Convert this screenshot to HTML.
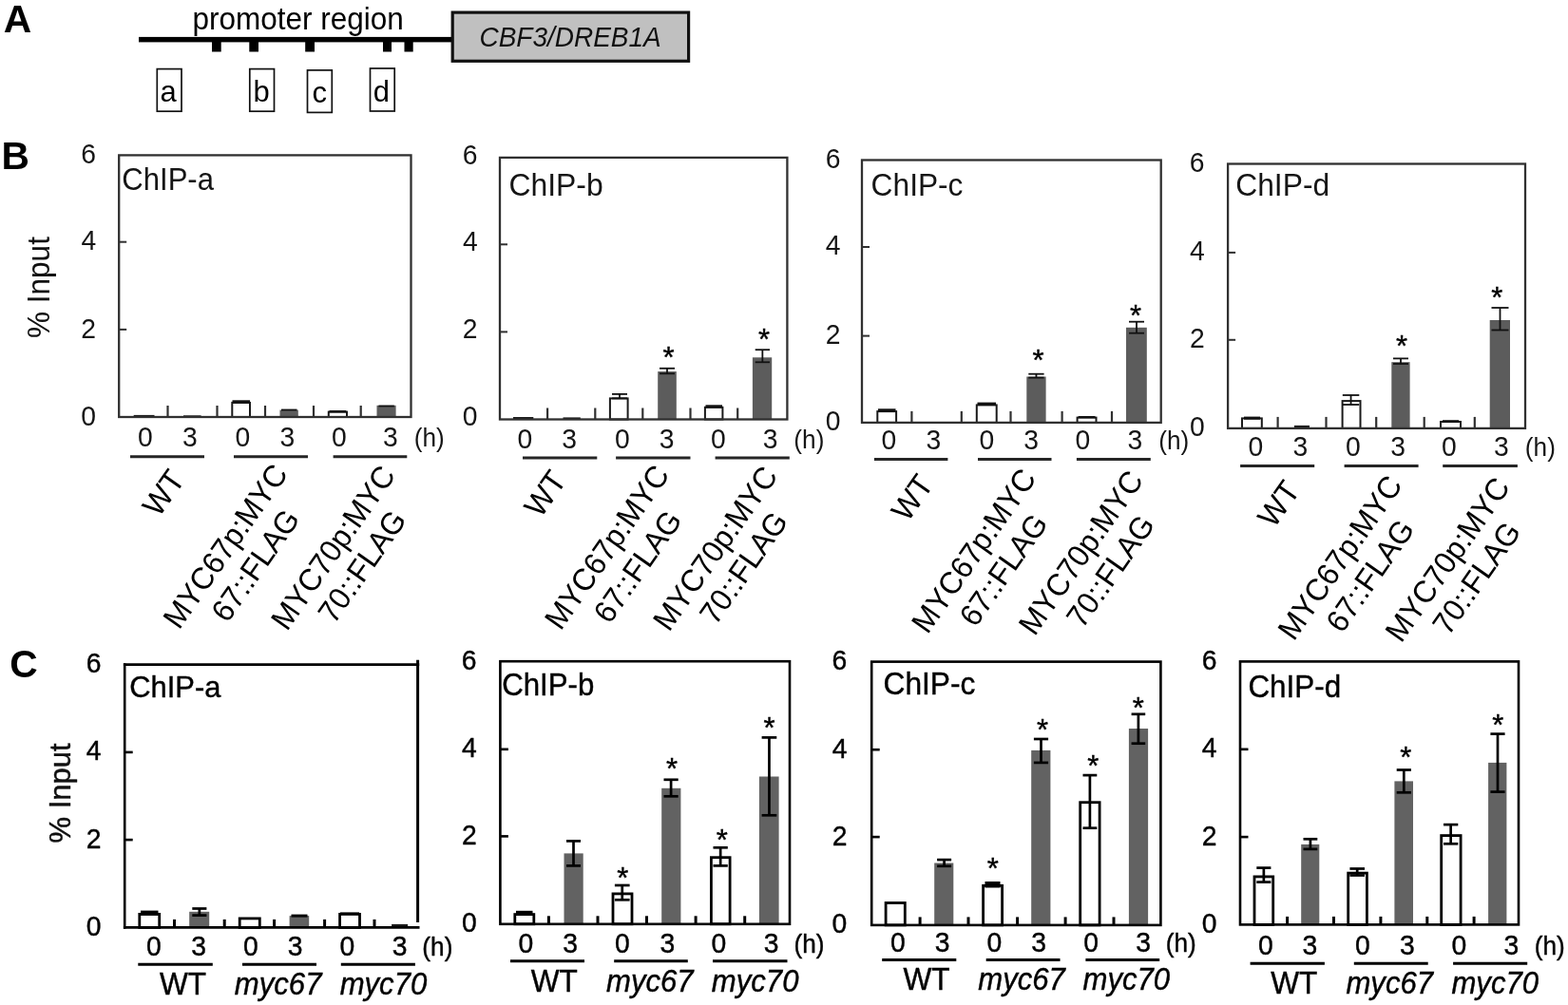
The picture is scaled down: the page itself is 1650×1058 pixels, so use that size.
<!DOCTYPE html>
<html lang="en"><head><meta charset="utf-8"><title>ChIP figure</title>
<style>
html,body{margin:0;padding:0;background:#fff;}
body{width:1650px;height:1058px;overflow:hidden;font-family:"Liberation Sans",Arial,sans-serif;}
svg{display:block;}
svg text{font-family:"Liberation Sans",Arial,sans-serif;}
</style></head><body>
<svg width="1650" height="1058" viewBox="0 0 1650 1058">
<rect x="0" y="0" width="1650" height="1058" fill="#ffffff"/>
<text x="3.78" y="34.00" font-size="40.8" font-weight="bold" fill="#000">A</text>
<rect x="146.00" y="38.90" width="329.00" height="5.50" fill="#000"/>
<rect x="223.00" y="44.00" width="9.70" height="10.50" fill="#000"/>
<rect x="262.30" y="44.00" width="9.70" height="10.50" fill="#000"/>
<rect x="321.20" y="44.00" width="9.80" height="10.50" fill="#000"/>
<rect x="403.00" y="44.00" width="9.00" height="10.50" fill="#000"/>
<rect x="425.50" y="44.00" width="9.20" height="10.50" fill="#000"/>
<text transform="translate(202.55,31.00) scale(1,1.04)" font-size="31.5" fill="#000">promoter region</text>
<rect x="476.20" y="13.10" width="248.40" height="51.20" fill="#c0c0c0" stroke="#111" stroke-width="3.2"/>
<text transform="translate(504.46,49.20) scale(1,1.04)" font-size="28" font-style="italic" fill="#111">CBF3/DREB1A</text>
<rect x="165.30" y="72.60" width="25.70" height="44.60" fill="#fff" stroke="#111" stroke-width="1.7"/>
<text transform="translate(168.38,106.70) scale(1,1.04)" font-size="31" fill="#000">a</text>
<rect x="262.80" y="72.60" width="25.70" height="44.60" fill="#fff" stroke="#111" stroke-width="1.7"/>
<text transform="translate(266.38,106.70) scale(1,1.04)" font-size="31" fill="#000">b</text>
<rect x="323.50" y="73.90" width="25.80" height="44.50" fill="#fff" stroke="#111" stroke-width="1.7"/>
<text transform="translate(328.38,107.90) scale(1,1.04)" font-size="31" fill="#000">c</text>
<rect x="389.50" y="72.00" width="25.70" height="45.00" fill="#fff" stroke="#111" stroke-width="1.7"/>
<text transform="translate(392.68,107.20) scale(1,1.04)" font-size="31" fill="#000">d</text>
<rect x="140.70" y="436.90" width="21.80" height="2.10" fill="#1c1c1c"/>
<rect x="193.00" y="437.30" width="18.60" height="1.70" fill="#1c1c1c"/>
<rect x="244.30" y="423.90" width="18.70" height="15.10" fill="#fff" stroke="#1a1a1a" stroke-width="2"/>
<rect x="244.50" y="421.30" width="18.50" height="3.30" fill="#111"/>
<rect x="294.50" y="431.60" width="19.30" height="7.40" fill="#5c5c5c"/>
<rect x="296.00" y="430.60" width="16.50" height="1.80" fill="#111"/>
<rect x="345.80" y="433.60" width="19.20" height="5.40" fill="#fff" stroke="#1a1a1a" stroke-width="2"/>
<rect x="346.50" y="432.00" width="17.80" height="2.40" fill="#111"/>
<rect x="396.50" y="426.80" width="20.10" height="12.20" fill="#5c5c5c"/>
<rect x="398.50" y="426.60" width="16.30" height="1.80" fill="#111"/>
<rect x="125.20" y="163.40" width="307.30" height="275.60" fill="none" stroke="#303030" stroke-width="2.3"/>
<line x1="125.20" y1="254.70" x2="133.20" y2="254.70" stroke="#303030" stroke-width="2" stroke-linecap="butt"/>
<line x1="125.20" y1="346.90" x2="133.20" y2="346.90" stroke="#303030" stroke-width="2" stroke-linecap="butt"/>
<line x1="176.50" y1="439.00" x2="176.50" y2="427.00" stroke="#303030" stroke-width="2.2" stroke-linecap="butt"/>
<line x1="228.50" y1="439.00" x2="228.50" y2="427.00" stroke="#303030" stroke-width="2.2" stroke-linecap="butt"/>
<line x1="279.00" y1="439.00" x2="279.00" y2="427.00" stroke="#303030" stroke-width="2.2" stroke-linecap="butt"/>
<line x1="330.00" y1="439.00" x2="330.00" y2="427.00" stroke="#303030" stroke-width="2.2" stroke-linecap="butt"/>
<line x1="379.70" y1="439.00" x2="379.70" y2="427.00" stroke="#303030" stroke-width="2.2" stroke-linecap="butt"/>
<text transform="translate(85.24,172.27) scale(1,1.04)" font-size="28.3" fill="#151515">6</text>
<text transform="translate(85.42,263.37) scale(1,1.04)" font-size="28.3" fill="#151515">4</text>
<text transform="translate(85.35,355.71) scale(1,1.04)" font-size="28.3" fill="#151515">2</text>
<text transform="translate(85.31,447.67) scale(1,1.04)" font-size="28.3" fill="#151515">0</text>
<text transform="translate(128.25,200.10) scale(1,1.04)" font-size="31.1" fill="#151515">ChIP-a</text>
<text transform="translate(145.11,469.80) scale(1,1.04)" font-size="28.3" fill="#151515">0</text>
<text transform="translate(191.92,469.80) scale(1,1.04)" font-size="28.3" fill="#151515">3</text>
<text transform="translate(247.41,469.80) scale(1,1.04)" font-size="28.3" fill="#151515">0</text>
<text transform="translate(294.42,469.80) scale(1,1.04)" font-size="28.3" fill="#151515">3</text>
<text transform="translate(349.11,469.80) scale(1,1.04)" font-size="28.3" fill="#151515">0</text>
<text transform="translate(402.92,469.80) scale(1,1.04)" font-size="28.3" fill="#151515">3</text>
<text transform="translate(435.66,469.80) scale(1,1.04)" font-size="26.2" fill="#151515">(h)</text>
<line x1="137.00" y1="480.80" x2="215.00" y2="480.80" stroke="#262626" stroke-width="3.0" stroke-linecap="butt"/>
<line x1="246.00" y1="480.80" x2="324.00" y2="480.80" stroke="#262626" stroke-width="3.0" stroke-linecap="butt"/>
<line x1="350.60" y1="480.80" x2="428.30" y2="480.80" stroke="#262626" stroke-width="3.0" stroke-linecap="butt"/>
<text transform="translate(167.11,545.63) rotate(-55) scale(1,1.04)" font-size="32.0" fill="#000">WT</text>
<text transform="translate(188.51,663.73) rotate(-55) scale(1,1.04)" font-size="31.5" fill="#000">MYC67p:MYC</text>
<text transform="translate(239.30,656.79) rotate(-55) scale(1,1.04)" font-size="31.5" fill="#000">67::FLAG</text>
<text transform="translate(301.91,665.23) rotate(-55) scale(1,1.04)" font-size="31.5" fill="#000">MYC70p:MYC</text>
<text transform="translate(351.55,657.95) rotate(-55) scale(1,1.04)" font-size="31.5" fill="#000">70::FLAG</text>
<rect x="540.00" y="439.00" width="21.30" height="2.50" fill="#1c1c1c"/>
<rect x="592.50" y="439.40" width="18.30" height="2.10" fill="#1c1c1c"/>
<rect x="641.90" y="419.40" width="18.70" height="22.10" fill="#fff" stroke="#1a1a1a" stroke-width="2"/>
<line x1="652.00" y1="414.90" x2="652.00" y2="419.40" stroke="#111" stroke-width="1.8" stroke-linecap="butt"/>
<line x1="644.00" y1="414.90" x2="660.00" y2="414.90" stroke="#111" stroke-width="1.8" stroke-linecap="butt"/>
<line x1="644.00" y1="419.40" x2="660.00" y2="419.40" stroke="#111" stroke-width="1.8" stroke-linecap="butt"/>
<rect x="692.20" y="391.10" width="19.60" height="50.40" fill="#5c5c5c"/>
<line x1="702.00" y1="387.80" x2="702.00" y2="393.30" stroke="#111" stroke-width="1.8" stroke-linecap="butt"/>
<line x1="694.00" y1="387.80" x2="710.00" y2="387.80" stroke="#111" stroke-width="1.8" stroke-linecap="butt"/>
<line x1="694.00" y1="393.30" x2="710.00" y2="393.30" stroke="#111" stroke-width="1.8" stroke-linecap="butt"/>
<rect x="741.90" y="428.80" width="18.50" height="12.70" fill="#fff" stroke="#1a1a1a" stroke-width="2"/>
<rect x="742.50" y="426.30" width="17.50" height="3.30" fill="#111"/>
<rect x="791.90" y="376.30" width="20.30" height="65.20" fill="#5c5c5c"/>
<line x1="802.35" y1="368.20" x2="802.35" y2="381.30" stroke="#111" stroke-width="1.8" stroke-linecap="butt"/>
<line x1="794.70" y1="368.20" x2="810.00" y2="368.20" stroke="#111" stroke-width="1.8" stroke-linecap="butt"/>
<line x1="794.70" y1="381.30" x2="810.00" y2="381.30" stroke="#111" stroke-width="1.8" stroke-linecap="butt"/>
<rect x="526.00" y="165.90" width="302.40" height="275.60" fill="none" stroke="#303030" stroke-width="2.3"/>
<line x1="526.00" y1="257.30" x2="534.00" y2="257.30" stroke="#303030" stroke-width="2" stroke-linecap="butt"/>
<line x1="526.00" y1="349.40" x2="534.00" y2="349.40" stroke="#303030" stroke-width="2" stroke-linecap="butt"/>
<line x1="576.10" y1="441.50" x2="576.10" y2="429.50" stroke="#303030" stroke-width="2.2" stroke-linecap="butt"/>
<line x1="626.30" y1="441.50" x2="626.30" y2="429.50" stroke="#303030" stroke-width="2.2" stroke-linecap="butt"/>
<line x1="676.30" y1="441.50" x2="676.30" y2="429.50" stroke="#303030" stroke-width="2.2" stroke-linecap="butt"/>
<line x1="726.50" y1="441.50" x2="726.50" y2="429.50" stroke="#303030" stroke-width="2.2" stroke-linecap="butt"/>
<line x1="776.20" y1="441.50" x2="776.20" y2="429.50" stroke="#303030" stroke-width="2.2" stroke-linecap="butt"/>
<text transform="translate(486.74,172.82) scale(1,1.04)" font-size="28.3" fill="#151515">6</text>
<text transform="translate(486.92,264.22) scale(1,1.04)" font-size="28.3" fill="#151515">4</text>
<text transform="translate(486.85,356.46) scale(1,1.04)" font-size="28.3" fill="#151515">2</text>
<text transform="translate(486.81,448.42) scale(1,1.04)" font-size="28.3" fill="#151515">0</text>
<text transform="translate(535.40,206.10) scale(1,1.04)" font-size="31.9" fill="#151515">ChIP-b</text>
<text transform="translate(544.61,471.80) scale(1,1.04)" font-size="28.3" fill="#151515">0</text>
<text transform="translate(591.22,471.80) scale(1,1.04)" font-size="28.3" fill="#151515">3</text>
<text transform="translate(646.91,471.80) scale(1,1.04)" font-size="28.3" fill="#151515">0</text>
<text transform="translate(693.72,471.80) scale(1,1.04)" font-size="28.3" fill="#151515">3</text>
<text transform="translate(748.11,471.80) scale(1,1.04)" font-size="28.3" fill="#151515">0</text>
<text transform="translate(802.82,471.80) scale(1,1.04)" font-size="28.3" fill="#151515">3</text>
<text transform="translate(835.36,471.80) scale(1,1.04)" font-size="26.2" fill="#151515">(h)</text>
<line x1="550.00" y1="482.10" x2="628.30" y2="482.10" stroke="#262626" stroke-width="3.0" stroke-linecap="butt"/>
<line x1="648.10" y1="482.10" x2="726.50" y2="482.10" stroke="#262626" stroke-width="3.0" stroke-linecap="butt"/>
<line x1="752.60" y1="482.10" x2="830.80" y2="482.10" stroke="#262626" stroke-width="3.0" stroke-linecap="butt"/>
<text x="697.45" y="386.79" font-size="31" fill="#000" stroke="#000" stroke-width="0.45">*</text>
<text x="797.95" y="367.99" font-size="31" fill="#000" stroke="#000" stroke-width="0.45">*</text>
<text transform="translate(568.81,546.43) rotate(-55) scale(1,1.04)" font-size="32.0" fill="#000">WT</text>
<text transform="translate(590.01,664.83) rotate(-55) scale(1,1.04)" font-size="31.5" fill="#000">MYC67p:MYC</text>
<text transform="translate(641.50,657.99) rotate(-55) scale(1,1.04)" font-size="31.5" fill="#000">67::FLAG</text>
<text transform="translate(704.01,666.03) rotate(-55) scale(1,1.04)" font-size="31.5" fill="#000">MYC70p:MYC</text>
<text transform="translate(753.05,659.25) rotate(-55) scale(1,1.04)" font-size="31.5" fill="#000">70::FLAG</text>
<rect x="923.30" y="433.10" width="19.80" height="11.80" fill="#fff" stroke="#1a1a1a" stroke-width="2"/>
<rect x="924.00" y="430.30" width="18.50" height="3.30" fill="#111"/>
<rect x="1027.80" y="426.40" width="20.90" height="18.50" fill="#fff" stroke="#1a1a1a" stroke-width="2"/>
<rect x="1028.50" y="423.60" width="19.50" height="3.40" fill="#111"/>
<rect x="1080.30" y="396.50" width="20.30" height="48.40" fill="#5c5c5c"/>
<line x1="1090.45" y1="393.70" x2="1090.45" y2="397.60" stroke="#111" stroke-width="1.8" stroke-linecap="butt"/>
<line x1="1082.30" y1="393.70" x2="1098.60" y2="393.70" stroke="#111" stroke-width="1.8" stroke-linecap="butt"/>
<line x1="1082.30" y1="397.60" x2="1098.60" y2="397.60" stroke="#111" stroke-width="1.8" stroke-linecap="butt"/>
<rect x="1133.60" y="439.60" width="19.90" height="5.30" fill="#fff" stroke="#1a1a1a" stroke-width="2"/>
<rect x="1134.60" y="438.00" width="17.90" height="2.20" fill="#111"/>
<rect x="1185.00" y="344.80" width="21.80" height="100.10" fill="#5c5c5c"/>
<line x1="1196.00" y1="338.70" x2="1196.00" y2="350.70" stroke="#111" stroke-width="1.8" stroke-linecap="butt"/>
<line x1="1188.00" y1="338.70" x2="1204.00" y2="338.70" stroke="#111" stroke-width="1.8" stroke-linecap="butt"/>
<line x1="1188.00" y1="350.70" x2="1204.00" y2="350.70" stroke="#111" stroke-width="1.8" stroke-linecap="butt"/>
<rect x="907.00" y="168.50" width="314.70" height="276.40" fill="none" stroke="#303030" stroke-width="2.3"/>
<line x1="907.00" y1="260.00" x2="915.00" y2="260.00" stroke="#303030" stroke-width="2" stroke-linecap="butt"/>
<line x1="907.00" y1="353.60" x2="915.00" y2="353.60" stroke="#303030" stroke-width="2" stroke-linecap="butt"/>
<line x1="959.40" y1="444.90" x2="959.40" y2="432.90" stroke="#303030" stroke-width="2.2" stroke-linecap="butt"/>
<line x1="1011.80" y1="444.90" x2="1011.80" y2="432.90" stroke="#303030" stroke-width="2.2" stroke-linecap="butt"/>
<line x1="1063.50" y1="444.90" x2="1063.50" y2="432.90" stroke="#303030" stroke-width="2.2" stroke-linecap="butt"/>
<line x1="1117.60" y1="444.90" x2="1117.60" y2="432.90" stroke="#303030" stroke-width="2.2" stroke-linecap="butt"/>
<line x1="1170.00" y1="444.90" x2="1170.00" y2="432.90" stroke="#303030" stroke-width="2.2" stroke-linecap="butt"/>
<text transform="translate(868.64,176.92) scale(1,1.04)" font-size="28.3" fill="#151515">6</text>
<text transform="translate(868.82,268.42) scale(1,1.04)" font-size="28.3" fill="#151515">4</text>
<text transform="translate(868.75,362.16) scale(1,1.04)" font-size="28.3" fill="#151515">2</text>
<text transform="translate(868.71,453.32) scale(1,1.04)" font-size="28.3" fill="#151515">0</text>
<text transform="translate(916.62,205.80) scale(1,1.04)" font-size="31.7" fill="#151515">ChIP-c</text>
<text transform="translate(927.41,473.00) scale(1,1.04)" font-size="28.3" fill="#151515">0</text>
<text transform="translate(974.62,473.00) scale(1,1.04)" font-size="28.3" fill="#151515">3</text>
<text transform="translate(1030.51,473.00) scale(1,1.04)" font-size="28.3" fill="#151515">0</text>
<text transform="translate(1077.22,473.00) scale(1,1.04)" font-size="28.3" fill="#151515">3</text>
<text transform="translate(1131.61,473.00) scale(1,1.04)" font-size="28.3" fill="#151515">0</text>
<text transform="translate(1186.62,473.00) scale(1,1.04)" font-size="28.3" fill="#151515">3</text>
<text transform="translate(1219.16,473.00) scale(1,1.04)" font-size="26.2" fill="#151515">(h)</text>
<line x1="919.90" y1="483.40" x2="997.40" y2="483.40" stroke="#262626" stroke-width="3.0" stroke-linecap="butt"/>
<line x1="1029.00" y1="483.40" x2="1106.50" y2="483.40" stroke="#262626" stroke-width="3.0" stroke-linecap="butt"/>
<line x1="1132.90" y1="483.40" x2="1210.80" y2="483.40" stroke="#262626" stroke-width="3.0" stroke-linecap="butt"/>
<text x="1086.45" y="390.29" font-size="31" fill="#000" stroke="#000" stroke-width="0.45">*</text>
<text x="1188.95" y="343.29" font-size="31" fill="#000" stroke="#000" stroke-width="0.45">*</text>
<text transform="translate(954.91,550.63) rotate(-55) scale(1,1.04)" font-size="32.0" fill="#000">WT</text>
<text transform="translate(976.11,668.53) rotate(-55) scale(1,1.04)" font-size="31.5" fill="#000">MYC67p:MYC</text>
<text transform="translate(1026.40,661.59) rotate(-55) scale(1,1.04)" font-size="31.5" fill="#000">67::FLAG</text>
<text transform="translate(1088.81,670.43) rotate(-55) scale(1,1.04)" font-size="31.5" fill="#000">MYC70p:MYC</text>
<text transform="translate(1139.05,662.85) rotate(-55) scale(1,1.04)" font-size="31.5" fill="#000">70::FLAG</text>
<rect x="1307.00" y="440.40" width="20.80" height="10.50" fill="#fff" stroke="#1a1a1a" stroke-width="2"/>
<rect x="1309.00" y="438.60" width="17.00" height="3.10" fill="#111"/>
<rect x="1361.90" y="447.90" width="16.10" height="3.00" fill="#1c1c1c"/>
<rect x="1412.60" y="422.10" width="18.90" height="28.80" fill="#fff" stroke="#1a1a1a" stroke-width="2"/>
<line x1="1421.55" y1="416.00" x2="1421.55" y2="426.00" stroke="#111" stroke-width="1.8" stroke-linecap="butt"/>
<line x1="1412.80" y1="416.00" x2="1430.30" y2="416.00" stroke="#111" stroke-width="1.8" stroke-linecap="butt"/>
<line x1="1412.80" y1="426.00" x2="1430.30" y2="426.00" stroke="#111" stroke-width="1.8" stroke-linecap="butt"/>
<rect x="1464.30" y="381.20" width="19.30" height="69.70" fill="#5c5c5c"/>
<line x1="1474.00" y1="377.40" x2="1474.00" y2="383.00" stroke="#111" stroke-width="1.8" stroke-linecap="butt"/>
<line x1="1466.00" y1="377.40" x2="1482.00" y2="377.40" stroke="#111" stroke-width="1.8" stroke-linecap="butt"/>
<line x1="1466.00" y1="383.00" x2="1482.00" y2="383.00" stroke="#111" stroke-width="1.8" stroke-linecap="butt"/>
<rect x="1516.00" y="444.00" width="21.00" height="6.90" fill="#fff" stroke="#1a1a1a" stroke-width="2"/>
<rect x="1518.00" y="442.20" width="17.20" height="2.50" fill="#111"/>
<rect x="1567.70" y="337.00" width="21.30" height="113.90" fill="#5c5c5c"/>
<line x1="1578.50" y1="324.00" x2="1578.50" y2="347.50" stroke="#111" stroke-width="1.8" stroke-linecap="butt"/>
<line x1="1569.50" y1="324.00" x2="1587.50" y2="324.00" stroke="#111" stroke-width="1.8" stroke-linecap="butt"/>
<line x1="1569.50" y1="347.50" x2="1587.50" y2="347.50" stroke="#111" stroke-width="1.8" stroke-linecap="butt"/>
<rect x="1292.10" y="172.50" width="312.90" height="278.40" fill="none" stroke="#303030" stroke-width="2.3"/>
<line x1="1292.10" y1="265.90" x2="1300.10" y2="265.90" stroke="#303030" stroke-width="2" stroke-linecap="butt"/>
<line x1="1292.10" y1="357.80" x2="1300.10" y2="357.80" stroke="#303030" stroke-width="2" stroke-linecap="butt"/>
<line x1="1344.60" y1="450.90" x2="1344.60" y2="438.90" stroke="#303030" stroke-width="2.2" stroke-linecap="butt"/>
<line x1="1395.50" y1="450.90" x2="1395.50" y2="438.90" stroke="#303030" stroke-width="2.2" stroke-linecap="butt"/>
<line x1="1448.20" y1="450.90" x2="1448.20" y2="438.90" stroke="#303030" stroke-width="2.2" stroke-linecap="butt"/>
<line x1="1498.70" y1="450.90" x2="1498.70" y2="438.90" stroke="#303030" stroke-width="2.2" stroke-linecap="butt"/>
<line x1="1551.80" y1="450.90" x2="1551.80" y2="438.90" stroke="#303030" stroke-width="2.2" stroke-linecap="butt"/>
<text transform="translate(1251.84,180.97) scale(1,1.04)" font-size="28.3" fill="#151515">6</text>
<text transform="translate(1252.02,274.37) scale(1,1.04)" font-size="28.3" fill="#151515">4</text>
<text transform="translate(1251.95,366.41) scale(1,1.04)" font-size="28.3" fill="#151515">2</text>
<text transform="translate(1251.91,459.37) scale(1,1.04)" font-size="28.3" fill="#151515">0</text>
<text transform="translate(1300.21,206.10) scale(1,1.04)" font-size="31.8" fill="#151515">ChIP-d</text>
<text transform="translate(1313.51,480.10) scale(1,1.04)" font-size="28.3" fill="#151515">0</text>
<text transform="translate(1360.42,480.10) scale(1,1.04)" font-size="28.3" fill="#151515">3</text>
<text transform="translate(1416.01,480.10) scale(1,1.04)" font-size="28.3" fill="#151515">0</text>
<text transform="translate(1463.22,480.10) scale(1,1.04)" font-size="28.3" fill="#151515">3</text>
<text transform="translate(1517.11,480.10) scale(1,1.04)" font-size="28.3" fill="#151515">0</text>
<text transform="translate(1571.92,480.10) scale(1,1.04)" font-size="28.3" fill="#151515">3</text>
<text transform="translate(1604.86,480.10) scale(1,1.04)" font-size="26.2" fill="#151515">(h)</text>
<line x1="1305.10" y1="490.60" x2="1383.20" y2="490.60" stroke="#262626" stroke-width="3.0" stroke-linecap="butt"/>
<line x1="1414.60" y1="490.60" x2="1492.60" y2="490.60" stroke="#262626" stroke-width="3.0" stroke-linecap="butt"/>
<line x1="1518.20" y1="490.60" x2="1596.90" y2="490.60" stroke="#262626" stroke-width="3.0" stroke-linecap="butt"/>
<text x="1469.05" y="374.99" font-size="31" fill="#000" stroke="#000" stroke-width="0.45">*</text>
<text x="1569.36" y="323.69" font-size="31" fill="#000" stroke="#000" stroke-width="0.45">*</text>
<text transform="translate(1340.61,557.33) rotate(-55) scale(1,1.04)" font-size="32.0" fill="#000">WT</text>
<text transform="translate(1361.41,675.73) rotate(-55) scale(1,1.04)" font-size="31.5" fill="#000">MYC67p:MYC</text>
<text transform="translate(1412.20,667.69) rotate(-55) scale(1,1.04)" font-size="31.5" fill="#000">67::FLAG</text>
<text transform="translate(1474.61,677.73) rotate(-55) scale(1,1.04)" font-size="31.5" fill="#000">MYC70p:MYC</text>
<text transform="translate(1524.15,670.15) rotate(-55) scale(1,1.04)" font-size="31.5" fill="#000">70::FLAG</text>
<rect x="146.80" y="962.40" width="20.90" height="14.00" fill="#fff" stroke="#000" stroke-width="2.8"/>
<rect x="148.00" y="958.60" width="18.50" height="5.00" fill="#000"/>
<rect x="199.20" y="959.80" width="21.00" height="16.60" fill="#626262"/>
<line x1="209.85" y1="956.50" x2="209.85" y2="963.60" stroke="#000" stroke-width="2.7" stroke-linecap="butt"/>
<line x1="202.30" y1="956.50" x2="217.40" y2="956.50" stroke="#000" stroke-width="2.7" stroke-linecap="butt"/>
<line x1="202.30" y1="963.60" x2="217.40" y2="963.60" stroke="#000" stroke-width="2.7" stroke-linecap="butt"/>
<rect x="252.20" y="966.90" width="21.10" height="9.50" fill="#fff" stroke="#000" stroke-width="2.8"/>
<rect x="304.60" y="964.10" width="20.60" height="12.30" fill="#626262"/>
<rect x="306.50" y="962.60" width="17.00" height="3.00" fill="#000"/>
<rect x="357.60" y="962.40" width="20.90" height="14.00" fill="#fff" stroke="#000" stroke-width="2.8"/>
<rect x="358.00" y="960.40" width="20.00" height="2.60" fill="#000"/>
<rect x="412.10" y="972.90" width="17.00" height="3.50" fill="#1c1c1c"/>
<line x1="131.20" y1="698.30" x2="131.20" y2="977.70" stroke="#000" stroke-width="2.6" stroke-linecap="butt"/>
<line x1="129.90" y1="699.60" x2="441.20" y2="699.60" stroke="#000" stroke-width="2.6" stroke-linecap="butt"/>
<line x1="439.60" y1="694.80" x2="439.60" y2="970.90" stroke="#000" stroke-width="3.0" stroke-linecap="butt"/>
<line x1="129.90" y1="976.40" x2="441.50" y2="976.40" stroke="#000" stroke-width="2.6" stroke-linecap="butt"/>
<line x1="131.20" y1="791.90" x2="139.70" y2="791.90" stroke="#000" stroke-width="2.6" stroke-linecap="butt"/>
<line x1="131.20" y1="884.10" x2="139.70" y2="884.10" stroke="#000" stroke-width="2.6" stroke-linecap="butt"/>
<line x1="183.50" y1="976.40" x2="183.50" y2="967.90" stroke="#000" stroke-width="3" stroke-linecap="butt"/>
<line x1="236.20" y1="976.40" x2="236.20" y2="967.90" stroke="#000" stroke-width="3" stroke-linecap="butt"/>
<line x1="288.60" y1="976.40" x2="288.60" y2="967.90" stroke="#000" stroke-width="3" stroke-linecap="butt"/>
<line x1="341.60" y1="976.40" x2="341.60" y2="967.90" stroke="#000" stroke-width="3" stroke-linecap="butt"/>
<line x1="394.00" y1="976.40" x2="394.00" y2="967.90" stroke="#000" stroke-width="3" stroke-linecap="butt"/>
<text transform="translate(90.64,708.12) scale(1,1.04)" font-size="28.3" fill="#000" stroke="#000" stroke-width="0.4">6</text>
<text transform="translate(90.82,800.42) scale(1,1.04)" font-size="28.3" fill="#000" stroke="#000" stroke-width="0.4">4</text>
<text transform="translate(90.75,892.76) scale(1,1.04)" font-size="28.3" fill="#000" stroke="#000" stroke-width="0.4">2</text>
<text transform="translate(90.71,984.92) scale(1,1.04)" font-size="28.3" fill="#000" stroke="#000" stroke-width="0.4">0</text>
<text transform="translate(136.26,734.40) scale(1,1.04)" font-size="30.9" fill="#000" stroke="#000" stroke-width="0.4">ChIP-a</text>
<text transform="translate(154.11,1006.00) scale(1,1.04)" font-size="28.3" fill="#000" stroke="#000" stroke-width="0.4">0</text>
<text transform="translate(201.32,1006.00) scale(1,1.04)" font-size="28.3" fill="#000" stroke="#000" stroke-width="0.4">3</text>
<text transform="translate(256.11,1006.00) scale(1,1.04)" font-size="28.3" fill="#000" stroke="#000" stroke-width="0.4">0</text>
<text transform="translate(302.82,1006.00) scale(1,1.04)" font-size="28.3" fill="#000" stroke="#000" stroke-width="0.4">3</text>
<text transform="translate(357.51,1006.00) scale(1,1.04)" font-size="28.3" fill="#000" stroke="#000" stroke-width="0.4">0</text>
<text transform="translate(412.72,1006.00) scale(1,1.04)" font-size="28.3" fill="#000" stroke="#000" stroke-width="0.4">3</text>
<text transform="translate(444.36,1006.00) scale(1,1.04)" font-size="26.2" fill="#000" stroke="#000" stroke-width="0.4">(h)</text>
<line x1="145.30" y1="1015.20" x2="223.80" y2="1015.20" stroke="#000" stroke-width="3.0" stroke-linecap="butt"/>
<line x1="255.00" y1="1015.20" x2="333.00" y2="1015.20" stroke="#000" stroke-width="3.0" stroke-linecap="butt"/>
<line x1="358.80" y1="1015.20" x2="436.90" y2="1015.20" stroke="#000" stroke-width="3.0" stroke-linecap="butt"/>
<text transform="translate(168.04,1047.10) scale(1,1.04)" font-size="31.6" fill="#000" stroke="#000" stroke-width="0.4">WT</text>
<text transform="translate(246.86,1047.10) scale(1,1.04)" font-size="31.1" font-style="italic" fill="#000" stroke="#000" stroke-width="0.4">myc67</text>
<text transform="translate(357.66,1047.10) scale(1,1.04)" font-size="31.1" font-style="italic" fill="#000" stroke="#000" stroke-width="0.4">myc70</text>
<rect x="541.80" y="962.60" width="20.00" height="10.20" fill="#fff" stroke="#000" stroke-width="2.8"/>
<rect x="543.00" y="958.80" width="17.50" height="4.80" fill="#000"/>
<rect x="593.50" y="898.40" width="20.20" height="74.40" fill="#626262"/>
<line x1="603.50" y1="885.40" x2="603.50" y2="911.40" stroke="#000" stroke-width="2.7" stroke-linecap="butt"/>
<line x1="596.00" y1="885.40" x2="611.00" y2="885.40" stroke="#000" stroke-width="2.7" stroke-linecap="butt"/>
<line x1="596.00" y1="911.40" x2="611.00" y2="911.40" stroke="#000" stroke-width="2.7" stroke-linecap="butt"/>
<rect x="645.00" y="940.90" width="20.00" height="31.90" fill="#fff" stroke="#000" stroke-width="2.8"/>
<line x1="654.75" y1="932.00" x2="654.75" y2="947.30" stroke="#000" stroke-width="2.7" stroke-linecap="butt"/>
<line x1="646.90" y1="932.00" x2="662.60" y2="932.00" stroke="#000" stroke-width="2.7" stroke-linecap="butt"/>
<line x1="646.90" y1="947.30" x2="662.60" y2="947.30" stroke="#000" stroke-width="2.7" stroke-linecap="butt"/>
<rect x="696.20" y="829.80" width="20.20" height="143.00" fill="#626262"/>
<line x1="706.10" y1="820.80" x2="706.10" y2="838.30" stroke="#000" stroke-width="2.7" stroke-linecap="butt"/>
<line x1="698.50" y1="820.80" x2="713.70" y2="820.80" stroke="#000" stroke-width="2.7" stroke-linecap="butt"/>
<line x1="698.50" y1="838.30" x2="713.70" y2="838.30" stroke="#000" stroke-width="2.7" stroke-linecap="butt"/>
<rect x="748.40" y="902.70" width="19.70" height="70.10" fill="#fff" stroke="#000" stroke-width="2.8"/>
<line x1="758.15" y1="892.30" x2="758.15" y2="911.40" stroke="#000" stroke-width="2.7" stroke-linecap="butt"/>
<line x1="750.50" y1="892.30" x2="765.80" y2="892.30" stroke="#000" stroke-width="2.7" stroke-linecap="butt"/>
<line x1="750.50" y1="911.40" x2="765.80" y2="911.40" stroke="#000" stroke-width="2.7" stroke-linecap="butt"/>
<rect x="798.90" y="817.50" width="20.70" height="155.30" fill="#626262"/>
<line x1="809.45" y1="776.40" x2="809.45" y2="858.30" stroke="#000" stroke-width="2.7" stroke-linecap="butt"/>
<line x1="801.60" y1="776.40" x2="817.30" y2="776.40" stroke="#000" stroke-width="2.7" stroke-linecap="butt"/>
<line x1="801.60" y1="858.30" x2="817.30" y2="858.30" stroke="#000" stroke-width="2.7" stroke-linecap="butt"/>
<rect x="526.40" y="696.20" width="304.60" height="276.60" fill="none" stroke="#000" stroke-width="2.6"/>
<line x1="526.40" y1="788.80" x2="534.90" y2="788.80" stroke="#000" stroke-width="2.6" stroke-linecap="butt"/>
<line x1="526.40" y1="880.40" x2="534.90" y2="880.40" stroke="#000" stroke-width="2.6" stroke-linecap="butt"/>
<line x1="577.40" y1="972.80" x2="577.40" y2="964.30" stroke="#000" stroke-width="3" stroke-linecap="butt"/>
<line x1="629.00" y1="972.80" x2="629.00" y2="964.30" stroke="#000" stroke-width="3" stroke-linecap="butt"/>
<line x1="680.50" y1="972.80" x2="680.50" y2="964.30" stroke="#000" stroke-width="3" stroke-linecap="butt"/>
<line x1="732.10" y1="972.80" x2="732.10" y2="964.30" stroke="#000" stroke-width="3" stroke-linecap="butt"/>
<line x1="783.70" y1="972.80" x2="783.70" y2="964.30" stroke="#000" stroke-width="3" stroke-linecap="butt"/>
<text transform="translate(485.84,704.52) scale(1,1.04)" font-size="28.3" fill="#000" stroke="#000" stroke-width="0.4">6</text>
<text transform="translate(486.02,797.32) scale(1,1.04)" font-size="28.3" fill="#000" stroke="#000" stroke-width="0.4">4</text>
<text transform="translate(485.95,889.06) scale(1,1.04)" font-size="28.3" fill="#000" stroke="#000" stroke-width="0.4">2</text>
<text transform="translate(485.91,981.32) scale(1,1.04)" font-size="28.3" fill="#000" stroke="#000" stroke-width="0.4">0</text>
<text transform="translate(528.14,732.00) scale(1,1.04)" font-size="31.2" fill="#000" stroke="#000" stroke-width="0.4">ChIP-b</text>
<text transform="translate(545.41,1002.60) scale(1,1.04)" font-size="28.3" fill="#000" stroke="#000" stroke-width="0.4">0</text>
<text transform="translate(592.32,1002.60) scale(1,1.04)" font-size="28.3" fill="#000" stroke="#000" stroke-width="0.4">3</text>
<text transform="translate(647.11,1002.60) scale(1,1.04)" font-size="28.3" fill="#000" stroke="#000" stroke-width="0.4">0</text>
<text transform="translate(694.42,1002.60) scale(1,1.04)" font-size="28.3" fill="#000" stroke="#000" stroke-width="0.4">3</text>
<text transform="translate(748.51,1002.60) scale(1,1.04)" font-size="28.3" fill="#000" stroke="#000" stroke-width="0.4">0</text>
<text transform="translate(803.72,1002.60) scale(1,1.04)" font-size="28.3" fill="#000" stroke="#000" stroke-width="0.4">3</text>
<text transform="translate(835.56,1002.60) scale(1,1.04)" font-size="26.2" fill="#000" stroke="#000" stroke-width="0.4">(h)</text>
<line x1="537.00" y1="1011.80" x2="615.00" y2="1011.80" stroke="#000" stroke-width="3.0" stroke-linecap="butt"/>
<line x1="646.20" y1="1011.80" x2="723.80" y2="1011.80" stroke="#000" stroke-width="3.0" stroke-linecap="butt"/>
<line x1="750.00" y1="1011.80" x2="828.50" y2="1011.80" stroke="#000" stroke-width="3.0" stroke-linecap="butt"/>
<text x="649.35" y="934.79" font-size="31" fill="#000" stroke="#000" stroke-width="0.45">*</text>
<text x="700.95" y="820.39" font-size="31" fill="#000" stroke="#000" stroke-width="0.45">*</text>
<text x="753.65" y="895.39" font-size="31" fill="#000" stroke="#000" stroke-width="0.45">*</text>
<text x="803.45" y="777.19" font-size="31" fill="#000" stroke="#000" stroke-width="0.45">*</text>
<text transform="translate(558.64,1043.70) scale(1,1.04)" font-size="31.6" fill="#000" stroke="#000" stroke-width="0.4">WT</text>
<text transform="translate(638.06,1043.70) scale(1,1.04)" font-size="31.1" font-style="italic" fill="#000" stroke="#000" stroke-width="0.4">myc67</text>
<text transform="translate(748.86,1043.70) scale(1,1.04)" font-size="31.1" font-style="italic" fill="#000" stroke="#000" stroke-width="0.4">myc70</text>
<rect x="932.10" y="950.50" width="20.20" height="23.40" fill="#fff" stroke="#000" stroke-width="2.8"/>
<rect x="983.20" y="908.50" width="20.10" height="65.40" fill="#626262"/>
<line x1="993.60" y1="905.10" x2="993.60" y2="911.80" stroke="#000" stroke-width="2.7" stroke-linecap="butt"/>
<line x1="986.10" y1="905.10" x2="1001.10" y2="905.10" stroke="#000" stroke-width="2.7" stroke-linecap="butt"/>
<line x1="986.10" y1="911.80" x2="1001.10" y2="911.80" stroke="#000" stroke-width="2.7" stroke-linecap="butt"/>
<rect x="1034.60" y="932.30" width="20.00" height="41.60" fill="#fff" stroke="#000" stroke-width="2.8"/>
<rect x="1036.50" y="928.00" width="16.00" height="6.50" fill="#000"/>
<rect x="1085.20" y="789.90" width="20.20" height="184.00" fill="#626262"/>
<line x1="1095.50" y1="778.00" x2="1095.50" y2="802.90" stroke="#000" stroke-width="2.7" stroke-linecap="butt"/>
<line x1="1087.90" y1="778.00" x2="1103.10" y2="778.00" stroke="#000" stroke-width="2.7" stroke-linecap="butt"/>
<line x1="1087.90" y1="802.90" x2="1103.10" y2="802.90" stroke="#000" stroke-width="2.7" stroke-linecap="butt"/>
<rect x="1136.70" y="844.70" width="20.40" height="129.20" fill="#fff" stroke="#000" stroke-width="2.8"/>
<line x1="1146.90" y1="816.10" x2="1146.90" y2="871.70" stroke="#000" stroke-width="2.7" stroke-linecap="butt"/>
<line x1="1139.50" y1="816.10" x2="1154.30" y2="816.10" stroke="#000" stroke-width="2.7" stroke-linecap="butt"/>
<line x1="1139.50" y1="871.70" x2="1154.30" y2="871.70" stroke="#000" stroke-width="2.7" stroke-linecap="butt"/>
<rect x="1187.90" y="767.00" width="20.20" height="206.90" fill="#626262"/>
<line x1="1197.90" y1="751.80" x2="1197.90" y2="782.70" stroke="#000" stroke-width="2.7" stroke-linecap="butt"/>
<line x1="1190.60" y1="751.80" x2="1205.20" y2="751.80" stroke="#000" stroke-width="2.7" stroke-linecap="butt"/>
<line x1="1190.60" y1="782.70" x2="1205.20" y2="782.70" stroke="#000" stroke-width="2.7" stroke-linecap="butt"/>
<rect x="917.20" y="696.60" width="304.20" height="277.30" fill="none" stroke="#000" stroke-width="2.6"/>
<line x1="917.20" y1="789.20" x2="925.70" y2="789.20" stroke="#000" stroke-width="2.6" stroke-linecap="butt"/>
<line x1="917.20" y1="881.10" x2="925.70" y2="881.10" stroke="#000" stroke-width="2.6" stroke-linecap="butt"/>
<line x1="968.10" y1="973.90" x2="968.10" y2="965.40" stroke="#000" stroke-width="3" stroke-linecap="butt"/>
<line x1="1019.00" y1="973.90" x2="1019.00" y2="965.40" stroke="#000" stroke-width="3" stroke-linecap="butt"/>
<line x1="1070.60" y1="973.90" x2="1070.60" y2="965.40" stroke="#000" stroke-width="3" stroke-linecap="butt"/>
<line x1="1121.10" y1="973.90" x2="1121.10" y2="965.40" stroke="#000" stroke-width="3" stroke-linecap="butt"/>
<line x1="1172.00" y1="973.90" x2="1172.00" y2="965.40" stroke="#000" stroke-width="3" stroke-linecap="butt"/>
<text transform="translate(875.54,705.12) scale(1,1.04)" font-size="28.3" fill="#000" stroke="#000" stroke-width="0.4">6</text>
<text transform="translate(875.72,797.72) scale(1,1.04)" font-size="28.3" fill="#000" stroke="#000" stroke-width="0.4">4</text>
<text transform="translate(875.65,889.76) scale(1,1.04)" font-size="28.3" fill="#000" stroke="#000" stroke-width="0.4">2</text>
<text transform="translate(875.61,982.42) scale(1,1.04)" font-size="28.3" fill="#000" stroke="#000" stroke-width="0.4">0</text>
<text transform="translate(929.51,730.50) scale(1,1.04)" font-size="31.7" fill="#000" stroke="#000" stroke-width="0.4">ChIP-c</text>
<text transform="translate(936.91,1001.50) scale(1,1.04)" font-size="28.3" fill="#000" stroke="#000" stroke-width="0.4">0</text>
<text transform="translate(983.82,1001.50) scale(1,1.04)" font-size="28.3" fill="#000" stroke="#000" stroke-width="0.4">3</text>
<text transform="translate(1038.41,1001.50) scale(1,1.04)" font-size="28.3" fill="#000" stroke="#000" stroke-width="0.4">0</text>
<text transform="translate(1085.22,1001.50) scale(1,1.04)" font-size="28.3" fill="#000" stroke="#000" stroke-width="0.4">3</text>
<text transform="translate(1140.31,1001.50) scale(1,1.04)" font-size="28.3" fill="#000" stroke="#000" stroke-width="0.4">0</text>
<text transform="translate(1195.22,1001.50) scale(1,1.04)" font-size="28.3" fill="#000" stroke="#000" stroke-width="0.4">3</text>
<text transform="translate(1226.76,1001.50) scale(1,1.04)" font-size="26.2" fill="#000" stroke="#000" stroke-width="0.4">(h)</text>
<line x1="928.20" y1="1010.50" x2="1006.30" y2="1010.50" stroke="#000" stroke-width="3.0" stroke-linecap="butt"/>
<line x1="1037.70" y1="1010.50" x2="1115.50" y2="1010.50" stroke="#000" stroke-width="3.0" stroke-linecap="butt"/>
<line x1="1142.40" y1="1010.50" x2="1220.20" y2="1010.50" stroke="#000" stroke-width="3.0" stroke-linecap="butt"/>
<text x="1038.75" y="925.49" font-size="31" fill="#000" stroke="#000" stroke-width="0.45">*</text>
<text x="1091.05" y="779.49" font-size="31" fill="#000" stroke="#000" stroke-width="0.45">*</text>
<text x="1144.15" y="816.99" font-size="31" fill="#000" stroke="#000" stroke-width="0.45">*</text>
<text x="1191.75" y="756.19" font-size="31" fill="#000" stroke="#000" stroke-width="0.45">*</text>
<text transform="translate(950.44,1041.90) scale(1,1.04)" font-size="31.6" fill="#000" stroke="#000" stroke-width="0.4">WT</text>
<text transform="translate(1029.26,1041.90) scale(1,1.04)" font-size="31.1" font-style="italic" fill="#000" stroke="#000" stroke-width="0.4">myc67</text>
<text transform="translate(1139.56,1041.90) scale(1,1.04)" font-size="31.1" font-style="italic" fill="#000" stroke="#000" stroke-width="0.4">myc70</text>
<rect x="1320.00" y="922.90" width="19.70" height="50.50" fill="#fff" stroke="#000" stroke-width="2.8"/>
<line x1="1329.85" y1="913.60" x2="1329.85" y2="928.60" stroke="#000" stroke-width="2.7" stroke-linecap="butt"/>
<line x1="1322.30" y1="913.60" x2="1337.40" y2="913.60" stroke="#000" stroke-width="2.7" stroke-linecap="butt"/>
<line x1="1322.30" y1="928.60" x2="1337.40" y2="928.60" stroke="#000" stroke-width="2.7" stroke-linecap="butt"/>
<rect x="1369.20" y="888.90" width="19.10" height="84.50" fill="#626262"/>
<line x1="1378.90" y1="883.30" x2="1378.90" y2="893.90" stroke="#000" stroke-width="2.7" stroke-linecap="butt"/>
<line x1="1371.50" y1="883.30" x2="1386.30" y2="883.30" stroke="#000" stroke-width="2.7" stroke-linecap="butt"/>
<line x1="1371.50" y1="893.90" x2="1386.30" y2="893.90" stroke="#000" stroke-width="2.7" stroke-linecap="butt"/>
<rect x="1418.70" y="919.10" width="19.70" height="54.30" fill="#fff" stroke="#000" stroke-width="2.8"/>
<line x1="1428.20" y1="914.50" x2="1428.20" y2="921.50" stroke="#000" stroke-width="2.7" stroke-linecap="butt"/>
<line x1="1420.40" y1="914.50" x2="1436.00" y2="914.50" stroke="#000" stroke-width="2.7" stroke-linecap="butt"/>
<line x1="1420.40" y1="921.50" x2="1436.00" y2="921.50" stroke="#000" stroke-width="2.7" stroke-linecap="butt"/>
<rect x="1467.40" y="822.40" width="19.60" height="151.00" fill="#626262"/>
<line x1="1477.30" y1="810.50" x2="1477.30" y2="834.30" stroke="#000" stroke-width="2.7" stroke-linecap="butt"/>
<line x1="1469.70" y1="810.50" x2="1484.90" y2="810.50" stroke="#000" stroke-width="2.7" stroke-linecap="butt"/>
<line x1="1469.70" y1="834.30" x2="1484.90" y2="834.30" stroke="#000" stroke-width="2.7" stroke-linecap="butt"/>
<rect x="1516.70" y="879.60" width="20.40" height="93.80" fill="#fff" stroke="#000" stroke-width="2.8"/>
<line x1="1526.65" y1="868.10" x2="1526.65" y2="888.30" stroke="#000" stroke-width="2.7" stroke-linecap="butt"/>
<line x1="1519.00" y1="868.10" x2="1534.30" y2="868.10" stroke="#000" stroke-width="2.7" stroke-linecap="butt"/>
<line x1="1519.00" y1="888.30" x2="1534.30" y2="888.30" stroke="#000" stroke-width="2.7" stroke-linecap="butt"/>
<rect x="1566.10" y="802.90" width="19.30" height="170.50" fill="#626262"/>
<line x1="1576.00" y1="772.60" x2="1576.00" y2="833.60" stroke="#000" stroke-width="2.7" stroke-linecap="butt"/>
<line x1="1568.40" y1="772.60" x2="1583.60" y2="772.60" stroke="#000" stroke-width="2.7" stroke-linecap="butt"/>
<line x1="1568.40" y1="833.60" x2="1583.60" y2="833.60" stroke="#000" stroke-width="2.7" stroke-linecap="butt"/>
<rect x="1305.00" y="696.40" width="293.00" height="277.00" fill="none" stroke="#000" stroke-width="2.6"/>
<line x1="1305.00" y1="788.80" x2="1313.50" y2="788.80" stroke="#000" stroke-width="2.6" stroke-linecap="butt"/>
<line x1="1305.00" y1="881.10" x2="1313.50" y2="881.10" stroke="#000" stroke-width="2.6" stroke-linecap="butt"/>
<line x1="1354.60" y1="973.40" x2="1354.60" y2="964.90" stroke="#000" stroke-width="3" stroke-linecap="butt"/>
<line x1="1403.50" y1="973.40" x2="1403.50" y2="964.90" stroke="#000" stroke-width="3" stroke-linecap="butt"/>
<line x1="1452.90" y1="973.40" x2="1452.90" y2="964.90" stroke="#000" stroke-width="3" stroke-linecap="butt"/>
<line x1="1501.80" y1="973.40" x2="1501.80" y2="964.90" stroke="#000" stroke-width="3" stroke-linecap="butt"/>
<line x1="1551.10" y1="973.40" x2="1551.10" y2="964.90" stroke="#000" stroke-width="3" stroke-linecap="butt"/>
<text transform="translate(1264.64,704.52) scale(1,1.04)" font-size="28.3" fill="#000" stroke="#000" stroke-width="0.4">6</text>
<text transform="translate(1264.82,797.32) scale(1,1.04)" font-size="28.3" fill="#000" stroke="#000" stroke-width="0.4">4</text>
<text transform="translate(1264.75,889.76) scale(1,1.04)" font-size="28.3" fill="#000" stroke="#000" stroke-width="0.4">2</text>
<text transform="translate(1264.71,982.02) scale(1,1.04)" font-size="28.3" fill="#000" stroke="#000" stroke-width="0.4">0</text>
<text transform="translate(1313.43,733.80) scale(1,1.04)" font-size="31.4" fill="#000" stroke="#000" stroke-width="0.4">ChIP-d</text>
<text transform="translate(1324.11,1005.30) scale(1,1.04)" font-size="28.3" fill="#000" stroke="#000" stroke-width="0.4">0</text>
<text transform="translate(1370.62,1005.30) scale(1,1.04)" font-size="28.3" fill="#000" stroke="#000" stroke-width="0.4">3</text>
<text transform="translate(1425.91,1005.30) scale(1,1.04)" font-size="28.3" fill="#000" stroke="#000" stroke-width="0.4">0</text>
<text transform="translate(1472.92,1005.30) scale(1,1.04)" font-size="28.3" fill="#000" stroke="#000" stroke-width="0.4">3</text>
<text transform="translate(1527.41,1005.30) scale(1,1.04)" font-size="28.3" fill="#000" stroke="#000" stroke-width="0.4">0</text>
<text transform="translate(1582.52,1005.30) scale(1,1.04)" font-size="28.3" fill="#000" stroke="#000" stroke-width="0.4">3</text>
<text transform="translate(1614.66,1005.30) scale(1,1.04)" font-size="26.2" fill="#000" stroke="#000" stroke-width="0.4">(h)</text>
<line x1="1315.60" y1="1014.30" x2="1393.90" y2="1014.30" stroke="#000" stroke-width="3.0" stroke-linecap="butt"/>
<line x1="1424.80" y1="1014.30" x2="1502.70" y2="1014.30" stroke="#000" stroke-width="3.0" stroke-linecap="butt"/>
<line x1="1529.10" y1="1014.30" x2="1607.20" y2="1014.30" stroke="#000" stroke-width="3.0" stroke-linecap="butt"/>
<text x="1473.25" y="807.99" font-size="31" fill="#000" stroke="#000" stroke-width="0.45">*</text>
<text x="1570.15" y="774.49" font-size="31" fill="#000" stroke="#000" stroke-width="0.45">*</text>
<text transform="translate(1337.24,1045.90) scale(1,1.04)" font-size="31.6" fill="#000" stroke="#000" stroke-width="0.4">WT</text>
<text transform="translate(1416.46,1045.90) scale(1,1.04)" font-size="31.1" font-style="italic" fill="#000" stroke="#000" stroke-width="0.4">myc67</text>
<text transform="translate(1527.46,1045.90) scale(1,1.04)" font-size="31.1" font-style="italic" fill="#000" stroke="#000" stroke-width="0.4">myc70</text>
<text x="1.55" y="177.80" font-size="40.8" font-weight="bold" fill="#000">B</text>
<text x="10.17" y="712.80" font-size="40.8" font-weight="bold" fill="#000">C</text>
<text transform="translate(52.00,355.90) rotate(-90) scale(1,1.04)" font-size="31.5" fill="#111">% Input</text>
<text transform="translate(73.70,887.49) rotate(-90) scale(1,1.04)" font-size="31" fill="#111" stroke="#000" stroke-width="0.4">% Input</text>
</svg>
</body></html>
